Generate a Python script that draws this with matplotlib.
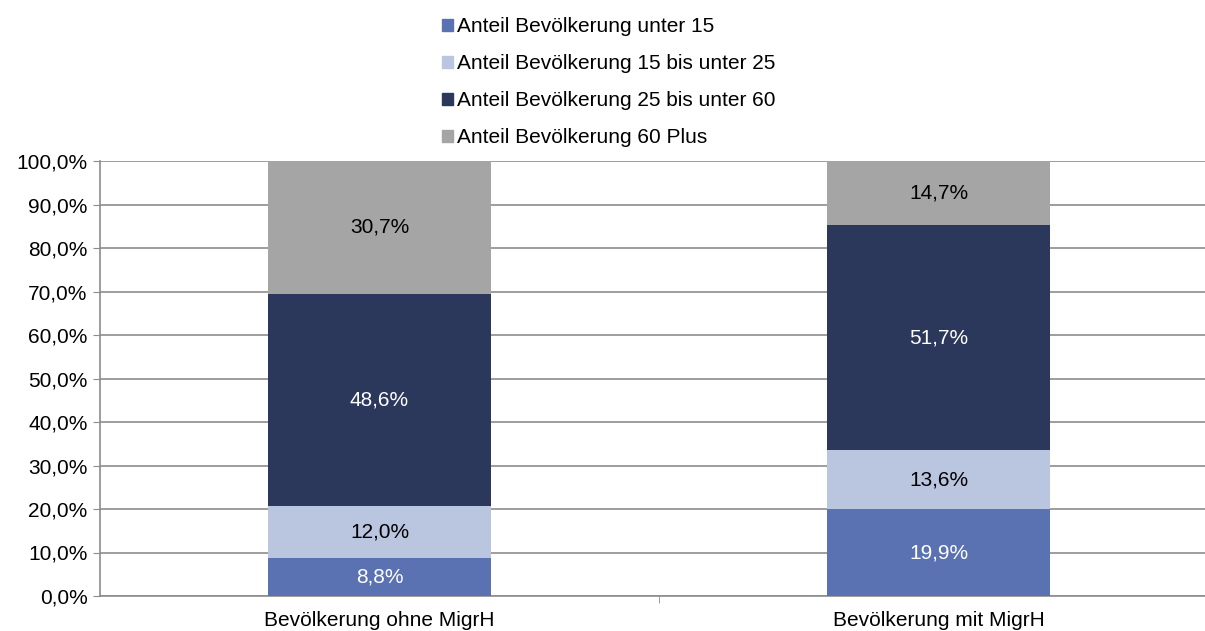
import matplotlib.pyplot as plt
from matplotlib.patches import Patch
import numpy as np

plt.rcParams['font.family'] = ['Liberation Sans', 'DejaVu Sans']

categories = ['Bevölkerung ohne MigrH', 'Bevölkerung mit MigrH']
series_names = ['Anteil Bevölkerung unter 15',
                'Anteil Bevölkerung 15 bis unter 25',
                'Anteil Bevölkerung 25 bis unter 60',
                'Anteil Bevölkerung 60 Plus']
under_15 = [8.8, 19.9]
from_15_to_25 = [12.0, 13.6]
from_25_to_60 = [48.6, 51.7]
plus_60 = [30.7, 14.7]
y_ticks = [0, 10, 20, 30, 40, 50, 60, 70, 80, 90, 100]

colors = ['#5A72B2', '#BAC5E0', '#2B385B', '#A5A5A5']
text_colors = ['white', 'black', 'white', 'black']
fs = 15

fig = plt.figure(figsize=(12.05, 6.31), dpi=100)
# right edge runs past the picture, like in the original
ax = fig.add_axes([100 / 1205, 1 - 596 / 631, 1118 / 1205, 435 / 631])

x = np.arange(len(categories))
bottoms = np.zeros(len(categories))
for name, vals, col, tcol in zip(series_names, [under_15, from_15_to_25, from_25_to_60, plus_60],
                                 colors, text_colors):
    vals = np.array(vals)
    ax.bar(x, vals, 0.4, bottom=bottoms, color=col, label=name, zorder=3)
    for xi, b, v in zip(x, bottoms, vals):
        ax.text(xi, b + v / 2, f"{v:.1f}%".replace('.', ','), ha='center', va='center',
                color=tcol, fontsize=fs, zorder=4)
    bottoms = bottoms + vals

ax.set_xlim(-0.5, 1.5)
ax.set_ylim(0, 100)
ax.set_yticks(y_ticks)
ax.set_yticklabels([f"{t:.1f}%".replace('.', ',') for t in y_ticks], fontsize=fs)
ax.set_xticks(x)
ax.set_xticklabels(categories, fontsize=fs)
ax.set_xticks([0.5], minor=True)
ax.tick_params(axis='x', which='major', length=0, pad=11)
ax.tick_params(axis='x', which='minor', length=5, color='#8C8C8C')
ax.tick_params(axis='y', length=5, color='#8C8C8C', pad=4)
ax.grid(axis='y', color='#8C8C8C', linewidth=1.2, zorder=0)
for side in ['top', 'right']:
    ax.spines[side].set_visible(False)
for side in ['left', 'bottom']:
    ax.spines[side].set_color('#8C8C8C')
    ax.spines[side].set_linewidth(1.2)

handles = [Patch(color=c) for c in colors]
fig.legend(handles, series_names, loc='upper left', bbox_to_anchor=(432 / 1205, 1 - 7 / 631),
           frameon=False, fontsize=fs, handlelength=0.5, handleheight=0.5,
           handletextpad=0.2, labelspacing=0.86, borderpad=0)

fig.savefig('out.png', dpi=100)
